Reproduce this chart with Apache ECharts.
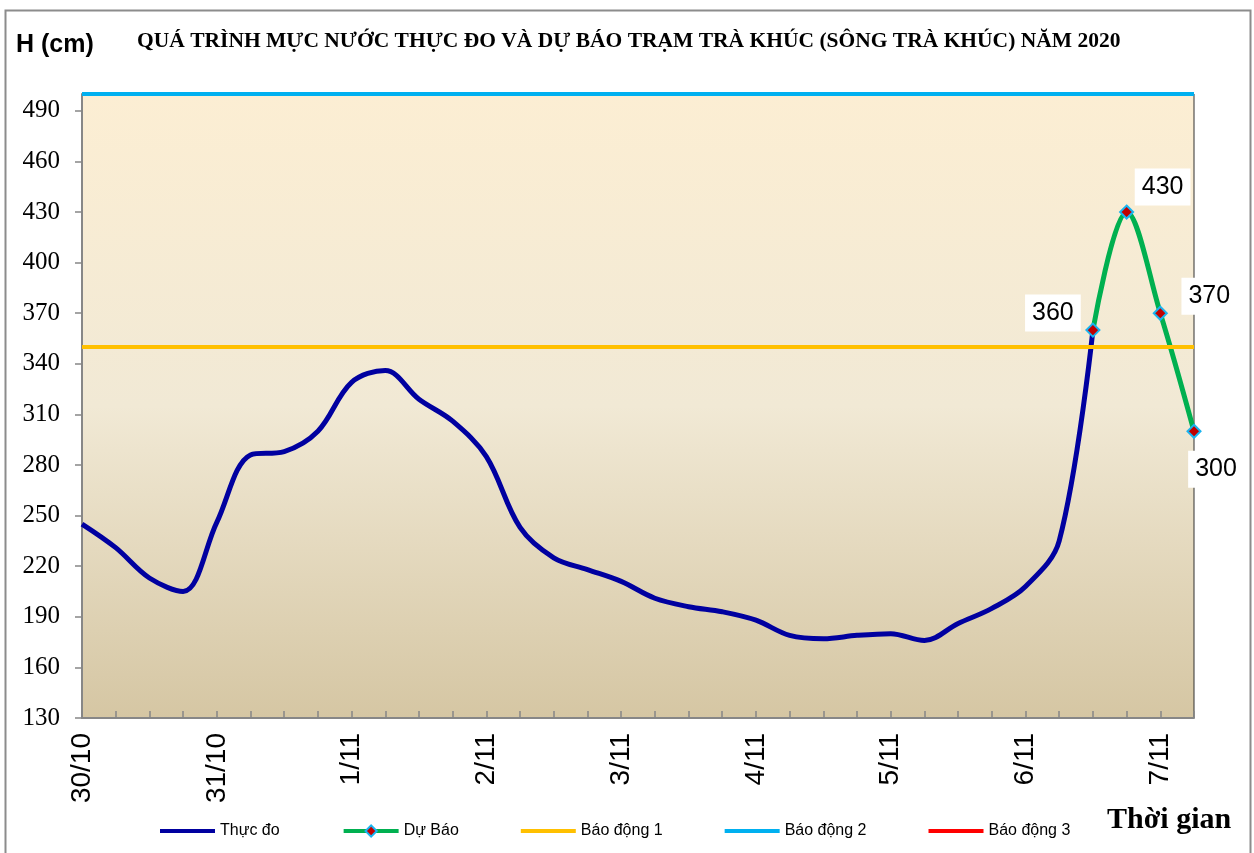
<!DOCTYPE html>
<html>
<head>
<meta charset="utf-8">
<script src="https://cdn.jsdelivr.net/npm/echarts@6/dist/echarts.min.js"></script>
<style>
html,body{margin:0;padding:0;background:#fff;}
#chart{width:1254px;height:853px;}
</style>
</head>
<body>
<div id="chart"></div>
<script>
// ---- data ----
const days = ['30/10','31/10','1/11','2/11','3/11','4/11','5/11','6/11','7/11'];
const hours = ['7h','13h','19h','1h'];
const observed = [245,231,213,205,246,286,288,300,329,336,319,306,285,243,225,218,211,201,196,193,188,179,177,179,180,176,186,195,208,235,360];
const forecast = [360,430,370,300];
const forecastStart = 30;
const yTicks = [130,160,190,220,250,280,310,340,370,400,430,460,490];
const alarm1 = 350, alarm2 = 500, alarm3 = 650;
const seriesNames = ['Thực đo','Dự Báo','Báo động 1','Báo động 2','Báo động 3'];

// categories: 6-hourly steps from 30/10 to 7/11 (second step)
const categories = [];
days.forEach((d, di) => {
  hours.forEach((h, hi) => {
    if (di < days.length - 1 || hi < 2) categories.push(d + ' ' + h);
  });
});

const obsData = categories.map((c, i) => i < observed.length ? observed[i] : null);
const fcData = categories.map((c, i) => (i >= forecastStart && i - forecastStart < forecast.length) ? forecast[i - forecastStart] : null);

const labelOffsets = [[-40,-17],[36,-25],[49,-17],[22,38]];
const fcSeriesData = fcData.map((v, i) => {
  if (v === null) return null;
  const k = i - forecastStart;
  return {
    value: v,
    label: {
      show: true, position: 'inside', offset: labelOffsets[k],
      formatter: String(v), color: '#000', fontFamily: 'Liberation Sans', fontSize: 25,
      backgroundColor: '#fff', padding: [7, 7, 5, 7]
    }
  };
});

const chart = echarts.init(document.getElementById('chart'), null, {renderer: 'canvas'});
const axisGray = '#878787';
const lineIcon = 'path://M0,0 L55,0 L55,4 L0,4 Z';

chart.setOption({
  animation: false,
  backgroundColor: '#fff',
  grid: {
    left: 82, right: 60, top: 94, bottom: 135,
    show: true,
    borderColor: '#303030', borderWidth: 1,
    backgroundColor: new echarts.graphic.LinearGradient(0, 0, 0, 1, [
      {offset: 0, color: '#FCEED3'},
      {offset: 0.5, color: '#F1E9D5'},
      {offset: 1, color: '#D5C6A3'}
    ])
  },
  legend: {
    left: 155, top: 818,
    itemWidth: 55, itemHeight: 14, itemGap: 62,
    textStyle: {fontFamily: 'Liberation Sans', fontSize: 16, color: '#000'},
    data: [
      {name: seriesNames[0], icon: lineIcon},
      {name: seriesNames[1], lineStyle: {width: 4}},
      {name: seriesNames[2], icon: lineIcon},
      {name: seriesNames[3], icon: lineIcon},
      {name: seriesNames[4], icon: lineIcon}
    ]
  },
  xAxis: {
    type: 'category',
    data: categories,
    boundaryGap: false,
    axisLine: {lineStyle: {color: axisGray, width: 2}},
    axisTick: {show: true, inside: true, length: 7, interval: 0, lineStyle: {color: axisGray, width: 1.5}},
    axisLabel: {
      interval: 3, rotate: 90, margin: 15,
      fontFamily: 'Liberation Sans', fontSize: 28, color: '#000',
      formatter: v => v.split(' ')[0]
    },
    splitLine: {show: false}
  },
  yAxis: {
    type: 'value',
    min: yTicks[0], max: alarm2, interval: yTicks[1] - yTicks[0],
    axisLine: {show: true, lineStyle: {color: axisGray, width: 2}},
    axisTick: {show: true, length: 7, lineStyle: {color: axisGray, width: 1.5}},
    axisLabel: {
      showMaxLabel: false, margin: 22,
      fontFamily: 'Liberation Serif', fontSize: 25, color: '#000'
    },
    splitLine: {show: false}
  },
  graphic: [
    {type: 'rect', left: 3, top: 8, shape: {width: 1245, height: 850}, style: {fill: 'none', stroke: '#8c8c8c', lineWidth: 2}, silent: true},
    {type: 'text', left: 16, top: 33, style: {text: 'H (cm)', font: 'bold 25px "Liberation Sans"', fill: '#000'}},
    {type: 'text', left: 137, top: 30, style: {text: 'QUÁ TRÌNH MỰC NƯỚC THỰC ĐO VÀ DỰ BÁO TRẠM TRÀ KHÚC (SÔNG TRÀ KHÚC) NĂM 2020', font: 'bold 21.5px "Liberation Serif"', fill: '#000'}},
    {type: 'text', left: 1107, top: 805, style: {text: 'Thời gian', font: 'bold 30px "Liberation Serif"', fill: '#000'}}
  ],
  series: [
    {
      name: seriesNames[0], type: 'line', data: obsData, smooth: 0.35,
      symbol: 'none', color: '#0000A0',
      lineStyle: {color: '#0000A0', width: 5}, z: 3
    },
    {
      name: seriesNames[1], type: 'line', data: fcSeriesData, smooth: 0.35,
      symbol: 'diamond', symbolSize: 13, showAllSymbol: true, color: '#00B050',
      itemStyle: {color: '#C00000', borderColor: '#19B4F0', borderWidth: 2},
      lineStyle: {color: '#00B050', width: 5}, z: 4
    },
    {
      name: seriesNames[2], type: 'line', data: [], symbol: 'none', color: '#FFC000',
      lineStyle: {color: '#FFC000', width: 4},
      markLine: {silent: true, symbol: ['none','none'], label: {show: false},
        lineStyle: {type: 'solid', color: '#FFC000', width: 4}, data: [{yAxis: alarm1}]}
    },
    {
      name: seriesNames[3], type: 'line', data: [], symbol: 'none', color: '#00B0F0',
      lineStyle: {color: '#00B0F0', width: 4},
      markLine: {silent: true, symbol: ['none','none'], label: {show: false},
        lineStyle: {type: 'solid', color: '#00B0F0', width: 4}, data: [{yAxis: alarm2}]}
    },
    {
      name: seriesNames[4], type: 'line', data: [], symbol: 'none', color: '#FF0000',
      lineStyle: {color: '#FF0000', width: 4}
    }
  ]
});
</script>
</body>
</html>
